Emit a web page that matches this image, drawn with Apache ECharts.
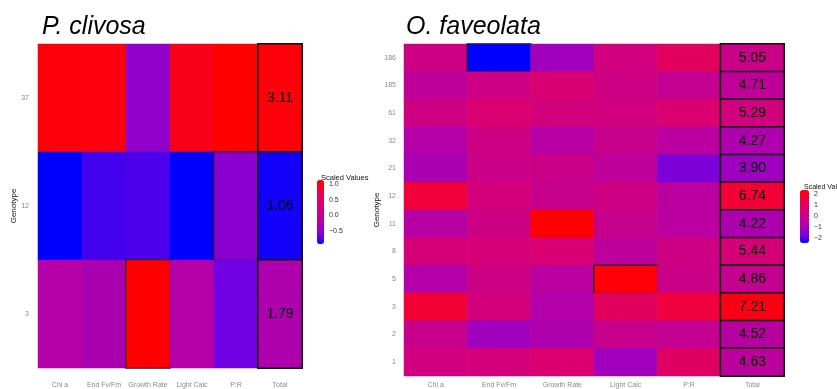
<!DOCTYPE html>
<html>
<head>
<meta charset="UTF-8">
<title></title>
<style>html,body{margin:0;padding:0;background:#fff;}#charts{width:837px;height:389px;}</style>
</head>
<body>
<div id="charts"></div>
<script src="https://cdn.jsdelivr.net/npm/echarts@6/dist/echarts.min.js"></script>
<script>
// 列
var traits = ['Chl a', 'End Fv/Fm', 'Growth Rate', 'Light Calc', 'P:R', 'Total'];

// P. clivosa
var pcGenotypes = ['37', '12', '3'];
var pcScaled = [
    [1.08, 1.05, -0.48, 1.00, 1.13, 1.08],
    [-0.93, -0.78, -0.76, -0.93, -0.52, -0.89],
    [-0.17, -0.25, 1.13, -0.17, -0.68, -0.22]
];
var pcTotals = [3.11, 1.06, 1.79];
var pcOutlined = [['12', 'P:R'], ['3', 'Growth Rate']];

// O. faveolata
var ofGenotypes = ['186', '185', '61', '32', '21', '12', '11', '8', '5', '3', '2', '1'];
var ofScaled = [
    [0.1, -2.45, -1.1, 0.2, 0.9, -0.02],
    [-0.4, 0.1, 0.5, 0.1, -0.2, -0.36],
    [0.1, 0.6, 0.3, 0.2, 0.6, 0.22],
    [-0.7, 0.1, -0.6, -0.1, -0.5, -0.80],
    [-0.9, 0.0, 0.0, -0.4, -1.7, -1.17],
    [1.6, 0.3, -0.1, 0.1, -0.5, 1.67],
    [-0.6, 0.1, 2.36, -0.1, -0.5, -0.85],
    [0.4, 0.4, 0.5, -0.4, 0.1, 0.37],
    [-0.7, 0.1, -0.5, 2.3, 0.0, -0.21],
    [1.7, 0.3, -0.7, 0.9, 1.5, 2.14],
    [-0.1, -1.1, -0.8, -0.1, -0.2, -0.55],
    [0.2, 0.3, 0.6, -1.1, 0.8, -0.44]
];
var ofTotals = [5.05, 4.71, 5.29, 4.27, 3.90, 6.74, 4.22, 5.44, 4.86, 7.21, 4.52, 4.63];
var ofOutlined = [['186', 'End Fv/Fm'], ['5', 'Light Calc']];

// 蓝→红 (Lab 插值)
var ramp = ['#0000ff', '#7300e0', '#9a00c3', '#b500a5', '#c90089', '#d90071', '#e80050', '#f40031', '#ff0000'];

// 拼接热力图数据
var buildData = function (genos, scaled, outlined) {
    var res = [];
    for (var r = 0; r < genos.length; r++) {
        for (var c = 0; c < traits.length; c++) {
            var item = { value: [c, r, scaled[r][c]] };
            var hit = outlined.some(function (o) { return o[0] === genos[r] && o[1] === traits[c]; });
            if (traits[c] === 'Total') {
                item.itemStyle = { borderColor: '#111', borderWidth: 1.5 };
            } else if (hit) {
                item.itemStyle = { borderColor: '#222', borderWidth: 1.2 };
            }
            res.push(item);
        }
    }
    return res;
};

var mycharts = echarts.init(document.getElementById('charts'));

var xAx = function (gi, margin) {
    return {
        type: 'category', gridIndex: gi, data: traits, position: 'bottom',
        axisLine: { show: false }, axisTick: { show: false }, splitArea: { show: false },
        axisLabel: { interval: 0, fontSize: 7, color: '#8a8a8a', margin: margin, fontFamily: 'Liberation Sans' }
    };
};
var yAx = function (gi, genos, gap, margin) {
    return {
        type: 'category', gridIndex: gi, data: genos, inverse: true,
        axisLine: { show: false }, axisTick: { show: false },
        name: 'Genotype', nameLocation: 'middle', nameRotate: 90, nameGap: gap,
        nameTextStyle: { fontSize: 8, color: '#111', fontFamily: 'Liberation Sans' },
        axisLabel: { interval: 0, fontSize: 7, color: '#8a8a8a', margin: margin, fontFamily: 'Liberation Sans' }
    };
};
// 图例刻度
var legAx = function (gi, min, max) {
    return {
        type: 'value', gridIndex: gi, min: min, max: max, position: 'right',
        axisLine: { show: false }, splitLine: { show: false },
        axisTick: { show: true, inside: true, length: 2, lineStyle: { color: '#fff' } },
        axisLabel: {
            fontSize: 7, color: '#333', margin: 5, showMinLabel: false, showMaxLabel: false,
            fontFamily: 'Liberation Sans',
            formatter: function (v) {
                var s = (Math.abs(v - Math.round(v)) < 1e-9 && max > 2) ? String(Math.round(Math.abs(v))) : Math.abs(v).toFixed(1);
                return (v < 0 ? '\u2212' : '') + s;
            }
        }
    };
};

option = {
    backgroundColor: '#fff',
    title: [
        { text: 'P. clivosa', left: 37, top: 10, textStyle: { fontSize: 25, fontStyle: 'italic', fontWeight: 'normal', color: '#000', fontFamily: 'Liberation Sans' } },
        { text: 'O. faveolata', left: 401, top: 10, textStyle: { fontSize: 25, fontStyle: 'italic', fontWeight: 'normal', color: '#000', fontFamily: 'Liberation Sans' } },
        { text: 'Scaled Values', left: 316, top: 169, textStyle: { fontSize: 7.5, fontWeight: 'normal', color: '#111', fontFamily: 'Liberation Sans' } },
        { text: 'Scaled Values', left: 799, top: 179, textStyle: { fontSize: 7, fontWeight: 'normal', color: '#111', fontFamily: 'Liberation Sans' } }
    ],
    grid: [
        { left: 38, top: 44, width: 264, height: 325 },
        { left: 404, top: 44, width: 380, height: 335 },
        { left: 317, top: 180, width: 7, height: 64 },
        { left: 800, top: 190, width: 9, height: 53 }
    ],
    xAxis: [
        xAx(0, 14), xAx(1, 6),
        { type: 'value', gridIndex: 2, show: false },
        { type: 'value', gridIndex: 3, show: false }
    ],
    yAxis: [
        yAx(0, pcGenotypes, 19, 9), yAx(1, ofGenotypes, 15, 8),
        legAx(2, -0.93, 1.13), legAx(3, -2.45, 2.36)
    ],
    visualMap: [
        { type: 'continuous', seriesIndex: 0, min: -0.93, max: 1.13, calculable: false, show: true,
          left: 317, top: 180, itemWidth: 7, itemHeight: 64, padding: 0, text: null, showLabel: false,
          inRange: { color: ramp } },
        { type: 'continuous', seriesIndex: 1, min: -2.45, max: 2.36, calculable: false, show: true,
          left: 800, top: 190, itemWidth: 9, itemHeight: 53, padding: 0, text: null, showLabel: false,
          inRange: { color: ramp } }
    ],
    series: [
        {
            type: 'heatmap', xAxisIndex: 0, yAxisIndex: 0,
            data: buildData(pcGenotypes, pcScaled, pcOutlined),
            label: {
                show: true, fontSize: 14, color: '#000', fontFamily: 'Liberation Sans',
                formatter: function (p) { return p.value[0] === 5 ? pcTotals[p.value[1]].toFixed(2) : ''; }
            },
            emphasis: { disabled: true }
        },
        {
            type: 'heatmap', xAxisIndex: 1, yAxisIndex: 1,
            data: buildData(ofGenotypes, ofScaled, ofOutlined),
            label: {
                show: true, fontSize: 14, color: '#000', fontFamily: 'Liberation Sans',
                formatter: function (p) { return p.value[0] === 5 ? ofTotals[p.value[1]].toFixed(2) : ''; }
            },
            emphasis: { disabled: true }
        }
    ]
};
mycharts.setOption(option);
</script>
</body>
</html>
